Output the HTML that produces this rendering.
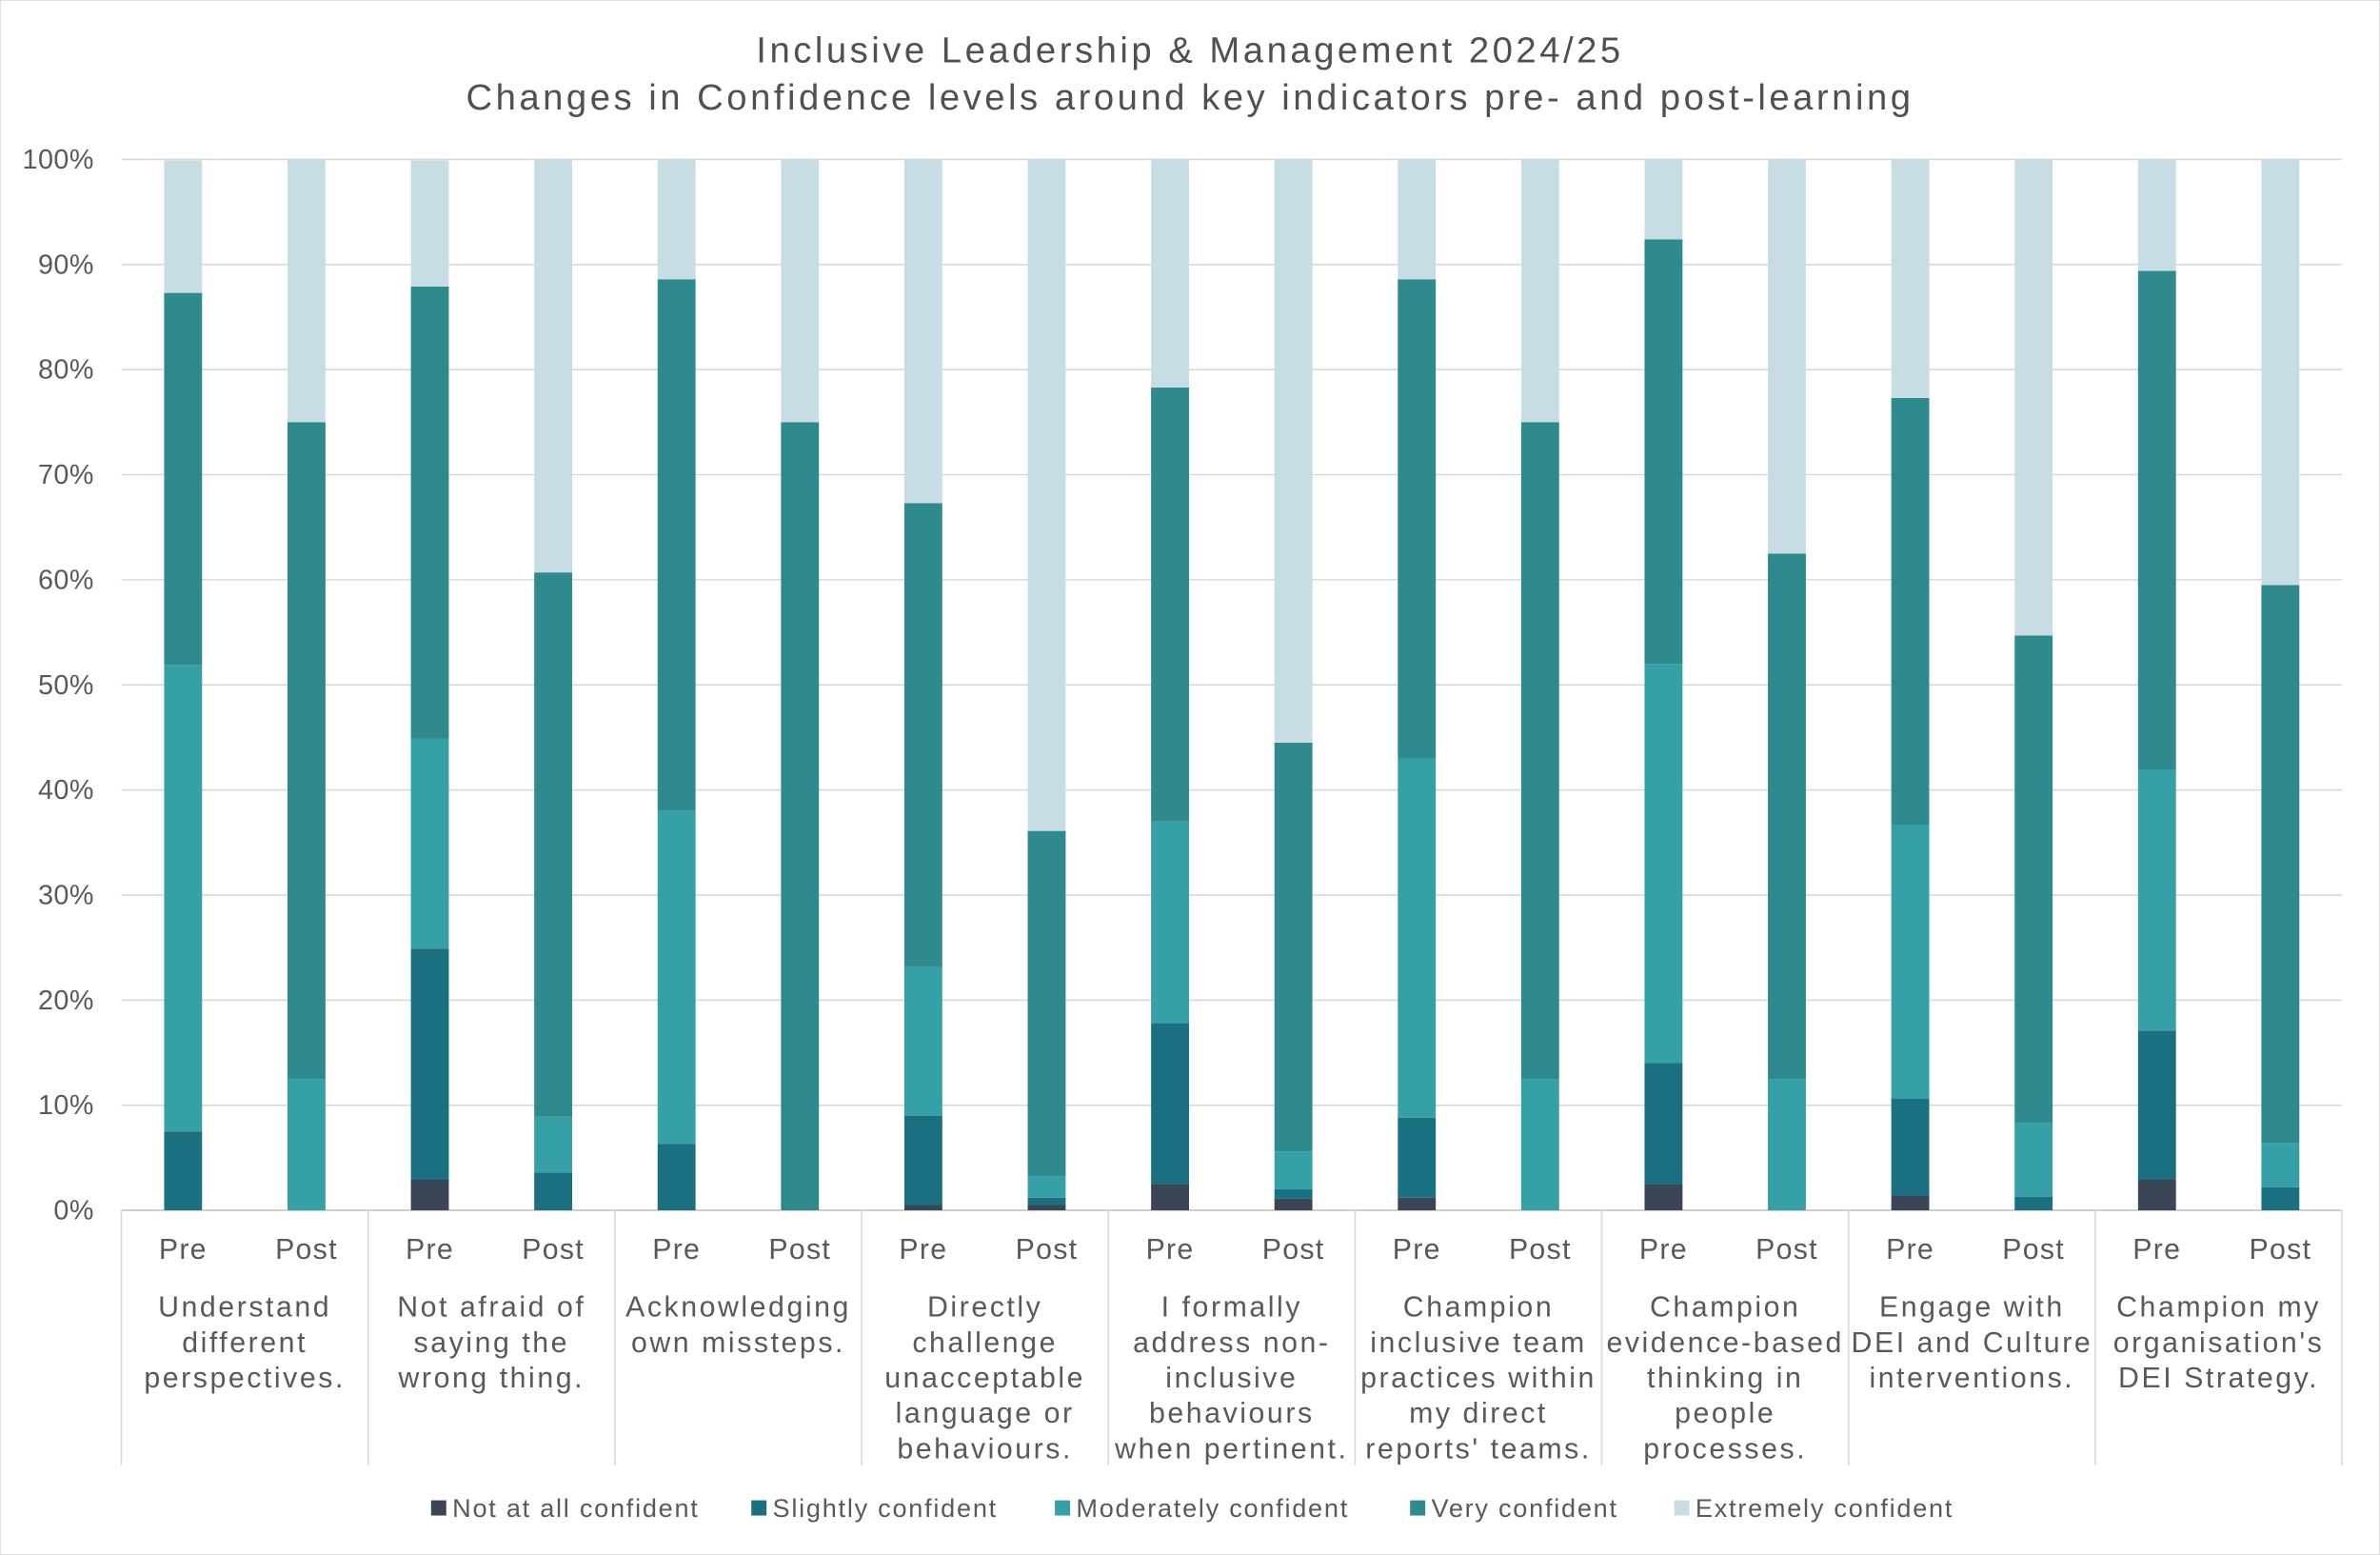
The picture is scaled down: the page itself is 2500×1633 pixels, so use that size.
<!DOCTYPE html>
<html><head><meta charset="utf-8"><style>
html,body{margin:0;padding:0;background:#fff;}
svg{display:block;font-family:"Liberation Sans",sans-serif;}
</style></head><body>
<svg id="chart" width="2500" height="1633" viewBox="0 0 1568 1024" preserveAspectRatio="none" xmlns="http://www.w3.org/2000/svg">
<rect x="0" y="0" width="1568" height="1024" fill="#fff" stroke="#d9d9d9"/>
<text x="784" y="41" text-anchor="middle" font-size="24" letter-spacing="2.2" fill="#505050">Inclusive Leadership &amp; Management 2024/25</text>
<text x="784" y="72" text-anchor="middle" font-size="24" letter-spacing="2.2" fill="#505050">Changes in Confidence levels around key indicators pre- and post-learning</text>
<g id="grid"></g><g id="bars"></g><g id="xaxis"></g><g id="legend"></g>
</svg>
<script>
const categories=[["Understand","different","perspectives."],["Not afraid of","saying the","wrong thing."],["Acknowledging","own missteps."],["Directly","challenge","unacceptable","language or","behaviours."],["I formally","address non-","inclusive","behaviours","when pertinent."],["Champion","inclusive team","practices within","my direct","reports' teams."],["Champion","evidence-based","thinking in","people","processes."],["Engage with","DEI and Culture","interventions."],["Champion my","organisation's","DEI Strategy."]];
const phases=["Pre","Post"];
const seriesNames=["Not at all confident","Slightly confident","Moderately confident","Very confident","Extremely confident"];
const notAtAll=[0,0,2.9,0,0,0,0.5,0.5,2.5,1.1,1.2,0,2.5,0,1.4,0,2.9,0];
const slightly=[7.5,0,22,3.6,6.3,0,8.5,0.7,15.3,0.9,7.6,0,11.5,0,9.2,1.3,14.2,2.2];
const moderately=[44.4,12.5,20,5.3,31.7,0,14.2,2,19.2,3.6,34.2,12.5,38,12.5,26.1,7,24.8,4.2];
const very=[35.4,62.5,43,51.8,50.6,75,44.1,32.9,41.3,38.9,45.6,62.5,40.4,50,40.6,46.4,47.5,53.1];
const extremely=[12.6,25,12,39.3,11.4,25,32.7,63.9,21.7,55.5,11.4,25,7.6,37.5,22.7,45.3,10.6,40.5];
const yTicks=[0,10,20,30,40,50,60,70,80,90,100];
const colors=["#3a4556","#1a7080","#35a0a6","#2e8a8c","#c8dde3"];
const NS="http://www.w3.org/2000/svg";
const L=80,R=1543,Y0=797,Y100=105;
const y=v=>Y0-(Y0-Y100)*v/100;
const gw=(R-L)/categories.length, bw=(R-L)/(categories.length*2);
const xc=i=>L+bw*(i+0.5);
function mk(t,a,p){const e=document.createElementNS(NS,t);for(const k in a)e.setAttribute(k,a[k]);p.appendChild(e);return e;}
const grid=document.getElementById('grid');
yTicks.forEach(t=>{
 const l=mk('line',{x1:L,x2:R,y1:y(t),y2:y(t),stroke:t===0?'#bfbfbf':'#d9d9d9','stroke-width':1},grid);
 
 
 const tx=mk('text',{x:62,y:y(t)+6,'text-anchor':'end','font-size':18,'letter-spacing':0.3,fill:'#595959'},grid);
 tx.textContent=t+'%';
 
 
});
const bars=document.getElementById('bars');
const series=[notAtAll,slightly,moderately,very,extremely];
for(let i=0;i<notAtAll.length;i++){
 let cum=0;
 series.forEach((s,k)=>{
  const v=s[i]; if(v<=0){return;}
  const r=mk('rect',{x:xc(i)-12.5,width:25,y:y(cum+v),height:y(cum)-y(cum+v),fill:colors[k]},bars);
  
  
  cum+=v;
 });
}
const xa=document.getElementById('xaxis');
for(let g=0;g<=categories.length;g++){
 const l=mk('line',{x1:L+gw*g,x2:L+gw*g,y1:Y0,y2:965,stroke:'#d9d9d9'},xa);
 
 
}
for(let i=0;i<categories.length*2;i++){
 const t=mk('text',{x:xc(i),y:829,'text-anchor':'middle','font-size':19,'letter-spacing':0.8,fill:'#595959'},xa);
 t.textContent=phases[i%2];
 
 
}
categories.forEach((c,g)=>{
 c.forEach((line,j)=>{
  const t=mk('text',{x:L+gw*(g+0.5),y:867+j*23.3,'text-anchor':'middle','font-size':19,'letter-spacing':1.6,fill:'#595959'},xa);
  t.textContent=line;
  
  
 });
});
const lg=document.getElementById('legend');
const lx=[284,495,695,929,1103];
seriesNames.forEach((n,k)=>{
 const r=mk('rect',{x:lx[k],y:988,width:10,height:10,fill:colors[k]},lg);
 
 
 const t=mk('text',{x:lx[k]+14,y:999,'font-size':17,'letter-spacing':1.1,fill:'#595959'},lg);
 t.textContent=n;
 
 
});
</script>
</body></html>
